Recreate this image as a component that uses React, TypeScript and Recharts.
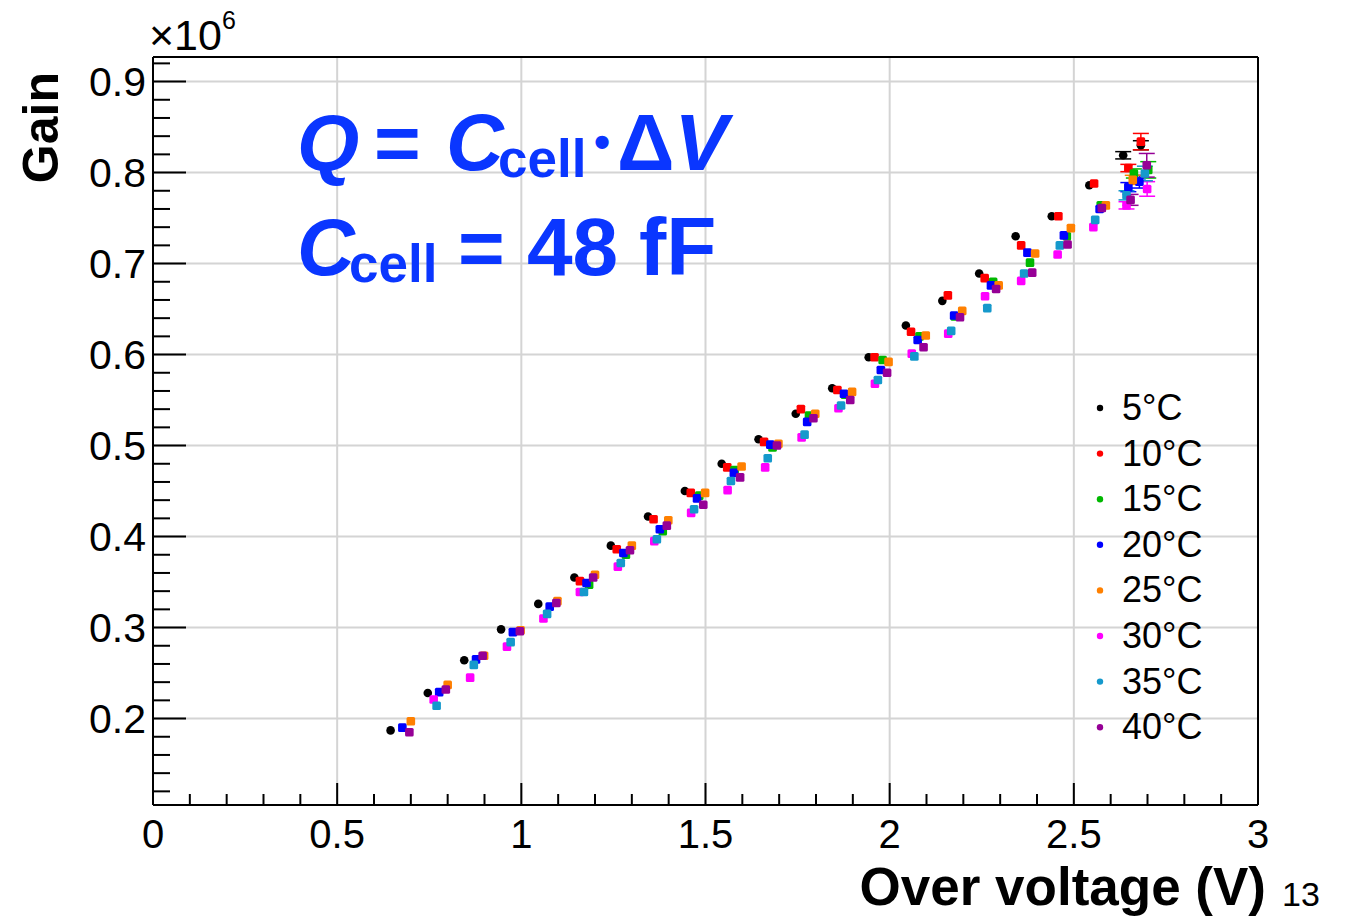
import React from 'react'
import { ScatterChart, Scatter, XAxis, YAxis, CartesianGrid, ReferenceLine, ErrorBar } from 'recharts'

// Gain (x10^6) vs over voltage (V), one list per temperature.
// [overVoltage, gain, err?] -- err only where the bar is visible.
type Pt = [number, number, number?]

const GAIN_5C: Pt[] = [
  [0.645, 0.187], [0.746, 0.228], [0.845, 0.264], [0.945, 0.298], [1.046, 0.326], [1.144, 0.355],
  [1.243, 0.390], [1.344, 0.422], [1.444, 0.450], [1.544, 0.480], [1.644, 0.507], [1.745, 0.535],
  [1.844, 0.563], [1.943, 0.597], [2.044, 0.632], [2.143, 0.659], [2.243, 0.689], [2.342, 0.730],
  [2.440, 0.752], [2.542, 0.786], [2.634, 0.819, 0.004], [2.682, 0.830, 0.005],
]
const GAIN_10C: Pt[] = [
  [1.159, 0.351], [1.259, 0.386], [1.359, 0.419], [1.460, 0.448], [1.559, 0.476], [1.659, 0.504],
  [1.759, 0.540], [1.858, 0.561], [1.959, 0.597], [2.058, 0.625], [2.158, 0.665], [2.258, 0.684],
  [2.357, 0.720], [2.458, 0.752], [2.555, 0.788], [2.648, 0.805, 0.004], [2.682, 0.834, 0.009],
]
const GAIN_15C: Pt[] = [
  [1.184, 0.347], [1.284, 0.380], [1.384, 0.406], [1.483, 0.445], [1.579, 0.473], [1.682, 0.498],
  [1.781, 0.533], [1.879, 0.556], [1.981, 0.594], [2.081, 0.620], [2.177, 0.642], [2.281, 0.680],
  [2.381, 0.701], [2.481, 0.730], [2.573, 0.764], [2.663, 0.799, 0.005], [2.702, 0.803, 0.009],
]
const GAIN_20C: Pt[] = [
  [0.677, 0.190], [0.777, 0.229], [0.877, 0.265], [0.977, 0.295], [1.077, 0.323], [1.177, 0.349],
  [1.277, 0.382], [1.376, 0.408], [1.477, 0.442], [1.577, 0.470], [1.676, 0.501], [1.776, 0.526],
  [1.876, 0.557], [1.976, 0.583], [2.076, 0.616], [2.175, 0.643], [2.275, 0.676], [2.374, 0.712],
  [2.473, 0.731], [2.570, 0.760], [2.648, 0.784, 0.005], [2.678, 0.790, 0.007],
]
const GAIN_25C: Pt[] = [
  [0.700, 0.197], [0.800, 0.237], [0.899, 0.269], [0.998, 0.297], [1.098, 0.329], [1.200, 0.358],
  [1.300, 0.390], [1.399, 0.418], [1.499, 0.448], [1.598, 0.477], [1.698, 0.502], [1.798, 0.535],
  [1.898, 0.559], [1.997, 0.592], [2.098, 0.621], [2.197, 0.648], [2.296, 0.676], [2.395, 0.711],
  [2.492, 0.739], [2.587, 0.764], [2.660, 0.792, 0.005],
]
const GAIN_30C: Pt[] = [
  [0.762, 0.221], [0.861, 0.245], [0.961, 0.279], [1.060, 0.310], [1.159, 0.339], [1.262, 0.367],
  [1.361, 0.395], [1.461, 0.426], [1.560, 0.451], [1.662, 0.476], [1.761, 0.509], [1.861, 0.541],
  [1.960, 0.568], [2.060, 0.601], [2.159, 0.623], [2.259, 0.664], [2.357, 0.681], [2.456, 0.710],
  [2.553, 0.740], [2.643, 0.764, 0.004], [2.699, 0.782, 0.008],
]
const GAIN_35C: Pt[] = [
  [0.770, 0.214], [0.871, 0.259], [0.971, 0.284], [1.070, 0.315], [1.170, 0.339], [1.270, 0.371],
  [1.368, 0.397], [1.469, 0.430], [1.569, 0.461], [1.669, 0.486], [1.769, 0.512], [1.868, 0.544],
  [1.968, 0.572], [2.067, 0.598], [2.167, 0.626], [2.265, 0.651], [2.365, 0.689], [2.462, 0.720],
  [2.558, 0.748], [2.643, 0.775, 0.005], [2.693, 0.799, 0.008],
]
const GAIN_40C: Pt[] = [
  [0.696, 0.185], [0.795, 0.232], [0.895, 0.269], [0.996, 0.296], [1.095, 0.327], [1.195, 0.355],
  [1.295, 0.385], [1.395, 0.412], [1.494, 0.435], [1.594, 0.465], [1.694, 0.500], [1.793, 0.530],
  [1.893, 0.550], [1.993, 0.580], [2.092, 0.608], [2.191, 0.641], [2.289, 0.672], [2.387, 0.690],
  [2.483, 0.721], [2.576, 0.761], [2.654, 0.770, 0.006], [2.698, 0.808, 0.013],
]

const SERIES_NAMES = ['5°C', '10°C', '15°C', '20°C', '25°C', '30°C', '35°C', '40°C']
const SERIES_DATA = [GAIN_5C, GAIN_10C, GAIN_15C, GAIN_20C, GAIN_25C, GAIN_30C, GAIN_35C, GAIN_40C]
const SERIES_COLORS = [
  '#000000', // 5
  '#ff0000', // 10
  '#00b800', // 15
  '#0000ff', // 20
  '#ff8000', // 25
  '#ff00ff', // 30
  '#1599cc', // 35
  '#960096', // 40
]

const X_MAJOR = [0, 0.5, 1, 1.5, 2, 2.5, 3]
const Y_MAJOR = [0.2, 0.3, 0.4, 0.5, 0.6, 0.7, 0.8, 0.9]
const X_DOMAIN: [number, number] = [0, 3]
const Y_DOMAIN: [number, number] = [0.105, 0.927]

// minor ticks like ROOT: 0.1 on x, 0.02 on y
const X_TICKS = Array.from({ length: 31 }, (_, i) => +(i * 0.1).toFixed(2))
const Y_TICKS = Array.from({ length: 41 }, (_, i) => +(0.12 + i * 0.02).toFixed(2)).filter(v => v <= 0.92)

const FONT = '"Liberation Sans", Arial, Helvetica, sans-serif'
const BLUE = '#0a36ff'

const isMajor = (v: number, majors: number[]) => majors.some(m => Math.abs(m - v) < 1e-6)

function XTick(props: any) {
  const { x, y, payload } = props
  const major = isMajor(payload.value, X_MAJOR)
  return (
    <g>
      <line x1={x} x2={x} y1={y} y2={y - (major ? 22 : 11)} stroke="#000" strokeWidth={2} />
      {major && (
        <text x={x} y={y + 43} textAnchor="middle" fontSize={40} fontFamily={FONT} fill="#000">
          {String(payload.value)}
        </text>
      )}
    </g>
  )
}

function YTick(props: any) {
  const { x, y, payload } = props
  const major = isMajor(payload.value, Y_MAJOR)
  return (
    <g>
      <line x1={x} x2={x + (major ? 33 : 17)} y1={y} y2={y} stroke="#000" strokeWidth={2} />
      {major && (
        <text x={x - 7} y={y + 14} textAnchor="end" fontSize={41} fontFamily={FONT} fill="#000">
          {payload.value.toFixed(1)}
        </text>
      )}
    </g>
  )
}

function Marker(props: any) {
  const { cx, cy, color, round } = props
  if (cx == null || cy == null) return null
  if (round) return <circle cx={cx} cy={cy} r={4.3} fill={color} />
  return <rect x={cx - 4.3} y={cy - 4.3} width={8.6} height={8.6} rx={1.5} fill={color} />
}

export default function App() {
  const series = SERIES_DATA.map(pts => pts.map(([v, g, e]) => ({ v, g, err: e ?? 0 })))

  return (
    <div style={{ position: 'absolute', left: 0, top: 0, width: 1345, height: 918, background: '#fff' }}>
      <ScatterChart width={1345} height={918} margin={{ top: 57, right: 87, bottom: 0, left: 0 }}>
        <CartesianGrid
          stroke="#d4d4d4"
          strokeWidth={2}
          horizontalValues={Y_MAJOR}
          verticalValues={X_MAJOR}
        />
        <XAxis
          type="number"
          dataKey="v"
          domain={X_DOMAIN}
          ticks={X_TICKS}
          interval={0}
          allowDataOverflow
          height={113}
          tickSize={0}
          tickMargin={0}
          tickLine={false}
          axisLine={{ stroke: '#000', strokeWidth: 2 }}
          tick={<XTick />}
        />
        <YAxis
          type="number"
          dataKey="g"
          domain={Y_DOMAIN}
          ticks={Y_TICKS}
          interval={0}
          allowDataOverflow
          width={153}
          tickSize={0}
          tickMargin={0}
          tickLine={false}
          axisLine={{ stroke: '#000', strokeWidth: 2 }}
          tick={<YTick />}
        />
        <ReferenceLine y={Y_DOMAIN[1]} stroke="#000" strokeWidth={2} />
        <ReferenceLine x={X_DOMAIN[1]} stroke="#000" strokeWidth={2} />
        {series.map((data, i) => (
          <Scatter
            key={SERIES_NAMES[i]}
            name={SERIES_NAMES[i]}
            data={data}
            fill={SERIES_COLORS[i]}
            isAnimationActive={false}
            shape={(p: any) => <Marker {...p} color={SERIES_COLORS[i]} round={i === 0} />}
          >
            <ErrorBar dataKey="err" direction="y" width={8} stroke={SERIES_COLORS[i]} strokeWidth={1.5} />
          </Scatter>
        ))}
      </ScatterChart>

      <svg width={1345} height={918} style={{ position: 'absolute', left: 0, top: 0, pointerEvents: 'none' }}>
        {/* axis multiplier */}
        <text x={149} y={50} fontSize={43} fontFamily={FONT} fill="#000">
          ×10<tspan fontSize={25} dy={-21}>6</tspan>
        </text>

        {/* axis titles */}
        <text transform="translate(58,72) rotate(-90)" textAnchor="end" fontSize={50} fontWeight="bold" fontFamily={FONT} fill="#000">
          Gain
        </text>
        <text x={1266} y={905} textAnchor="end" fontSize={53} fontWeight="bold" fontFamily={FONT} fill="#000">
          Over voltage (V)
        </text>
        <text x={1282} y={906} fontSize={34} fontFamily={FONT} fill="#000">13</text>

        {/* formula */}
        <g fontFamily={FONT} fontWeight="bold" fill={BLUE}>
          <text x={297} y={170} fontSize={80} fontStyle="italic">Q</text>
          <text x={374} y={170} fontSize={80}>=</text>
          <text x={446} y={170} fontSize={80} fontStyle="italic">C</text>
          <text x={498} y={177} fontSize={53}>cell</text>
          <text x={594} y={170} fontSize={80}>
            <tspan fontSize={46} dy={-12}>•</tspan>
            <tspan x={617} dy={12}>Δ</tspan>
            <tspan fontStyle="italic">V</tspan>
          </text>

          <text x={297} y={275} fontSize={80} fontStyle="italic">C</text>
          <text x={349} y={282} fontSize={53}>cell</text>
          <text x={458} y={275} fontSize={80}>=</text>
          <text x={527} y={275} fontSize={82}>48</text>
          <text x={639} y={275} fontSize={82}>fF</text>
        </g>

        {/* legend */}
        {SERIES_NAMES.map((name, i) => (
          <g key={name}>
            <circle cx={1100} cy={408 + i * 45.6} r={3.2} fill={SERIES_COLORS[i]} />
            <text x={1122} y={420 + i * 45.6} fontSize={36} fontFamily={FONT} fill="#000">{name}</text>
          </g>
        ))}
      </svg>
    </div>
  )
}
